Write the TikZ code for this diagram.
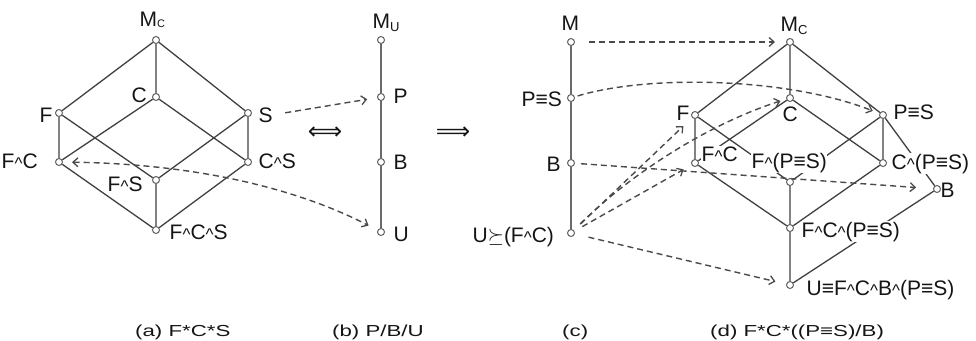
\documentclass[tikz,border=0pt]{standalone}
\usepackage{fontspec}
\setmainfont{Liberation Sans}
\newfontfamily\djv{DejaVu Sans}
\usepackage{graphicx}
\usetikzlibrary{arrows.meta}
\pgfdeclarelayer{bg}
\pgfsetlayers{bg,main}
\definecolor{ln}{HTML}{404040}
\definecolor{ch}{HTML}{6A6A6A}
\definecolor{dshc}{HTML}{4A4A4A}
\definecolor{tx}{HTML}{151515}
\definecolor{ptc}{HTML}{606060}
\newcommand\wg{\raisebox{-1.5pt}{\fontsize{17}{17}\selectfont\textasciicircum}}
\newcommand\sbs[1]{\raisebox{-3.5pt}{\fontsize{13}{13}\selectfont #1}}
\newcommand\sbsa[1]{\raisebox{-0.5pt}{\fontsize{11}{11}\selectfont #1}}
\begin{document}
\begin{tikzpicture}[x=1pt,y=-1pt,
  pt/.style={circle,draw=ptc,fill=white,line width=1pt,inner sep=0pt,minimum size=7pt},
  lab/.style={anchor=base west,inner sep=0.5pt,text=tx,font=\fontsize{21}{24}\selectfont},
  labf/.style={lab,fill=white},
  edg/.style={draw=ln,line width=1.3pt},
  chn/.style={draw=ch,line width=2.4pt},
  darr/.style={draw=dshc,line width=1.4pt,dash pattern=on 6pt off 4pt,-{Straight Barb[length=5pt,width=9pt,line width=1.3pt]}},
  captxt/.style={anchor=base west,inner sep=0pt,text=tx,font=\fontsize{21}{24}\selectfont},
  sym/.style={inner sep=0pt,text=tx,font=\djv\fontsize{24}{26}\selectfont}]
\useasboundingbox (0,0) rectangle (976,340);

% ---------- (a) ----------
\node[pt] (aM) at (156,40) {};
\node[pt] (aC) at (156,97) {};
\node[pt] (aF) at (59,113) {};
\node[pt] (aS) at (248,113) {};
\node[pt] (aFC) at (59,162) {};
\node[pt] (aCS) at (248,162) {};
\node[pt] (aFS) at (156,180) {};
\node[pt] (aFCS) at (156,230) {};
\node[lab] (laM) at (139,27) {M\sbsa{C}};
\node[lab] (laC) at (131,102) {C};
\node[lab] (laF) at (39,122) {F};
\node[lab] (laS) at (258,122) {S};
\node[lab] (laFC) at (1,168) {F\wg C};
\node[lab] (laCS) at (258,168) {C\wg S};
\node[lab] (laFS) at (107,191) {F\wg S};
\node[lab] (laFCS) at (169,239) {F\wg C\wg S};

% ---------- (b) ----------
\node[pt] (bM) at (381,40) {};
\node[pt] (bP) at (381,97) {};
\node[pt] (bB) at (381,162) {};
\node[pt] (bU) at (381,232) {};
\node[lab] (lbM) at (372,28) {M\sbs{U}};
\node[lab] (lbP) at (393,103) {P};
\node[lab] (lbB) at (393,169) {B};
\node[lab] (lbU) at (393,241) {U};

% ---------- (c) ----------
\node[pt] (cM) at (571,42) {};
\node[pt] (cP) at (571,98) {};
\node[pt] (cB) at (571,163) {};
\node[pt] (cU) at (571,233) {};
\node[lab] (lcM) at (561,30) {M};
\node[lab] (lcP) at (521,106) {P≡S};
\node[lab] (lcB) at (546,171) {B};
\node[lab] (lcU) at (472,242) {U$\succeq$(F\wg C)};

% ---------- (d) ----------
\node[pt] (dM) at (790,42) {};
\node[pt] (dC) at (790,98) {};
\node[pt] (dF) at (695,115) {};
\node[pt] (dP) at (883,115) {};
\node[pt] (dFC) at (695,163) {};
\node[pt] (dCP) at (883,163) {};
\node[pt] (dFP) at (790,182) {};
\node[pt] (dB) at (937,189) {};
\node[pt] (dFCP) at (790,228) {};
\node[pt] (dU) at (790,285) {};
\node[lab] (ldM) at (780,31) {M\sbs{C}};
\node[lab] (ldC) at (782,121) {C};
\node[lab] (ldF) at (676,120) {F};
\node[lab] (ldP) at (893,119) {P≡S};
\node[labf] (ldFC) at (701,161) {F\wg C};
\node[labf] (ldFP) at (751,168) {F\wg(P≡S)};
\node[labf] (ldCP) at (891,169) {C\wg(P≡S)};
\node[lab] (ldB) at (940,197) {B};
\node[labf] (ldFCP) at (801,237) {F\wg C\wg(P≡S)};
\node[lab] (ldU) at (806,295) {U≡F\wg C\wg B\wg(P≡S)};

% symbols
\node[sym] (iff) at (325,133) {⟺};
\node[sym] (imp) at (453,133) {⟹};

% captions
\node[captxt] (capa) at (135,336) {\scalebox{1.06}[0.76]{(a) F*C*S}};
\node[captxt] (capb) at (332,336) {\scalebox{1.06}[0.76]{(b) P/B/U}};
\node[captxt] (capc) at (562,336) {\scalebox{1.06}[0.76]{(c)}};
\node[captxt] (capd) at (710,336) {\scalebox{1.06}[0.76]{(d) F*C*((P≡S)/B)}};

\begin{pgfonlayer}{bg}
% (a) edges
\draw[edg] (aM)--(aF) (aM)--(aS) (aM)--(aC)
  (aF)--(aFC) (aS)--(aCS) (aC)--(aFC) (aC)--(aCS)
  (aF)--(aFS) (aS)--(aFS)
  (aFC)--(aFCS) (aCS)--(aFCS) (aFS)--(aFCS);
% (b), (c) chains
\draw[chn] (bM)--(bP)--(bB)--(bU);
\draw[chn] (cM)--(cP)--(cB)--(cU);
% (d) edges
\draw[edg] (dM)--(dF) (dM)--(dC) (dM)--(dP)
  (dF)--(dFC) (dP)--(dCP) (dC)--(dFC) (dC)--(dCP)
  (dF)--(dFP) (dP)--(dFP)
  (dFC)--(dFCP) (dCP)--(dFCP) (dFP)--(dFCP) (dFCP)--(dU)
  (dP)--(dB) (dB)--(dU);
% dashed arrows
\draw[darr,shorten <=12pt,shorten >=10pt] (laS.east) -- (bP);
\draw[darr,{Straight Barb[length=5pt,width=9pt,line width=1.3pt]}-{Straight Barb[length=5pt,width=9pt,line width=1.3pt]},shorten <=9pt,shorten >=10pt]
  (aFC) .. controls (200,164) and (300,190) .. (bU);
\draw[darr,shorten <=14pt,shorten >=11pt] (cM) -- (dM);
\draw[darr,shorten <=3pt,shorten >=7pt] (cP) .. controls (650,74) and (790,78) .. (dP);
\draw[darr,shorten <=6pt,shorten >=17pt] (cB) -- (dB);
\draw[darr,shorten <=14pt,shorten >=11pt] (cU) -- (dU);
\draw[darr,shorten <=9pt,shorten >=12pt] (cU) -- (dF);
\draw[darr,shorten <=9pt,shorten >=6pt] (cU) .. controls (640,165) and (720,120) .. (dC);
\draw[darr,shorten <=9pt,shorten >=9pt] (cU) -- (dFC);
\end{pgfonlayer}
\end{tikzpicture}
\end{document}
